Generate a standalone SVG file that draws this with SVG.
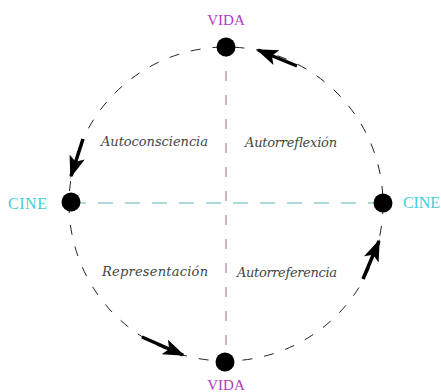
<svg xmlns="http://www.w3.org/2000/svg" width="441" height="392" viewBox="0 0 441 392">
<style>
.circ{fill:none;stroke:#222;stroke-width:1;stroke-dasharray:10 12}
.vax{stroke:#a88098;stroke-width:1.2;stroke-dasharray:10 14}
.hax{stroke:#5ab4b4;stroke-width:1.2;stroke-dasharray:15 12}
.arr{stroke:#000;stroke-width:3.5;fill:none;marker-end:url(#ah)}
.node{fill:#000}
.vida{font-family:"Liberation Serif",serif;font-size:15px;fill:#b03cc0;text-anchor:middle}
.cine{font-family:"Liberation Serif",serif;font-size:16px;fill:#3fcfd6}
.lab{font-family:"DejaVu Serif",serif;font-style:italic;font-size:13px;fill:#444}
</style>
<defs>
<marker id="ah" viewBox="0 0 22 16" refX="20" refY="8" markerWidth="22" markerHeight="16" markerUnits="userSpaceOnUse" orient="auto">
<path d="M0,0 L22,8 L0,16 L5,8 Z" fill="#000"/>
</marker>
</defs>
<g id="connectors">
<circle class="circ" cx="226" cy="204" r="157"/>
<line class="vax" x1="226" y1="47" x2="226" y2="362"/>
<line class="hax" x1="71" y1="203" x2="383" y2="203"/>
<line class="arr" x1="297" y1="66" x2="258" y2="50"/>
<line class="arr" x1="83" y1="139" x2="71" y2="176"/>
<line class="arr" x1="142" y1="337" x2="183" y2="355"/>
<line class="arr" x1="363" y1="279" x2="379" y2="241"/>
</g>
<g id="vida-top"><circle class="node" cx="226" cy="47" r="9.5"/><text class="vida" x="226" y="25">VIDA</text></g>
<g id="cine-left"><circle class="node" cx="71" cy="202" r="9.5"/><text class="cine" x="8" y="209" textLength="39">CINE</text></g>
<g id="cine-right"><circle class="node" cx="383" cy="203" r="9.5"/><text class="cine" x="403" y="208" textLength="37">CINE</text></g>
<g id="vida-bottom"><circle class="node" cx="225" cy="362" r="9.5"/><text class="vida" x="226" y="390">VIDA</text></g>
<g id="labels">
<text class="lab" x="101" y="146" textLength="107">Autoconsciencia</text>
<text class="lab" x="245" y="147" textLength="92">Autorreflexión</text>
<text class="lab" x="102" y="276" textLength="106">Representación</text>
<text class="lab" x="237" y="277" textLength="100">Autorreferencia</text>
</g>
</svg>
